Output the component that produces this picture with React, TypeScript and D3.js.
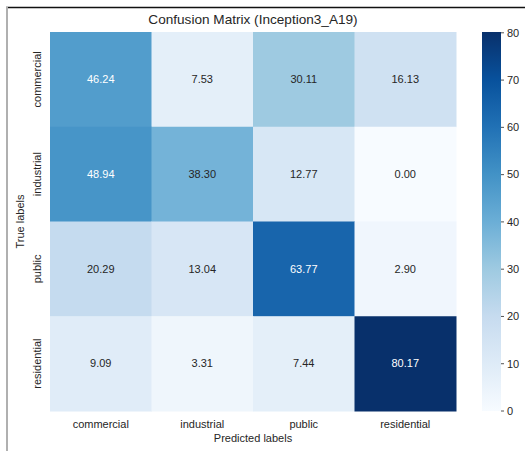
import React from "react";
import * as d3 from "d3";

const classes = ["commercial", "industrial", "public", "residential"];
const rowCommercial = [46.24, 7.53, 30.11, 16.13];
const rowIndustrial = [48.94, 38.3, 12.77, 0.0];
const rowPublic = [20.29, 13.04, 63.77, 2.9];
const rowResidential = [9.09, 3.31, 7.44, 80.17];
const matrix = [rowCommercial, rowIndustrial, rowPublic, rowResidential];
const colorbarTicks = [0, 10, 20, 30, 40, 50, 60, 70, 80];
const blues = ["#f7fbff", "#deebf7", "#c6dbef", "#9ecae1", "#6baed6", "#4292c6", "#2171b5", "#08519c", "#08306b"];

const W = 525;
const H = 451;
const left = 50, right = 456, top = 32, bottom = 411;
const cbLeft = 482, cbRight = 501;
const FONT = "'Liberation Sans', Arial, sans-serif";
const TEXT = "#262626";

function luminance(c: string) {
  const rgb = d3.rgb(c);
  const f = (v: number) => {
    const s = v / 255;
    return s <= 0.03928 ? s / 12.92 : Math.pow((s + 0.055) / 1.055, 2.4);
  };
  return 0.2126 * f(rgb.r) + 0.7152 * f(rgb.g) + 0.0722 * f(rgb.b);
}

export default function App() {
  const vmax = d3.max(matrix.flat()) as number;
  const color = d3
    .scaleLinear<string>()
    .domain(blues.map((_, i) => (i / (blues.length - 1)) * vmax))
    .range(blues)
    .interpolate(d3.interpolateRgb)
    .clamp(true);
  const x = d3.scaleBand<string>().domain(classes).range([left, right]);
  const y = d3.scaleBand<string>().domain(classes).range([top, bottom]);
  const cb = d3.scaleLinear().domain([0, vmax]).range([bottom, top]);

  return (
    <svg width={W} height={H} style={{ position: "absolute", left: 0, top: 0, background: "#fff" }} fontFamily={FONT}>
      <defs>
        <linearGradient id="cbGrad" x1="0" y1="1" x2="0" y2="0">
          {blues.map((c, i) => (
            <stop key={i} offset={i / (blues.length - 1)} stopColor={c} />
          ))}
        </linearGradient>
      </defs>
      <rect x={0} y={0} width={W} height={H} fill="#fff" />
      {/* figure frame */}
      <line x1={6} x2={W} y1={7.5} y2={7.5} stroke="#111" strokeWidth={1.5} />
      <line x1={7} x2={7} y1={7} y2={H} stroke="#b0b0b0" strokeWidth={2} />

      <text x={(left + right) / 2} y={23.5} textAnchor="middle" fontSize={13.6} fill={TEXT}>
        Confusion Matrix (Inception3_A19)
      </text>

      {matrix.map((row, ri) =>
        row.map((v, ci) => {
          const fill = color(v);
          const cx = (x(classes[ci]) as number) + x.bandwidth() / 2;
          const cy = (y(classes[ri]) as number) + y.bandwidth() / 2;
          return (
            <g key={`${ri}-${ci}`}>
              <rect
                x={x(classes[ci])}
                y={y(classes[ri])}
                width={x.bandwidth() + 0.5}
                height={y.bandwidth() + 0.5}
                fill={fill}
              />
              <text
                x={cx}
                y={cy}
                dy="0.35em"
                textAnchor="middle"
                fontSize={11}
                fill={luminance(fill) > 0.408 ? TEXT : "#ffffff"}
              >
                {v.toFixed(2)}
              </text>
            </g>
          );
        })
      )}

      {classes.map((c) => (
        <text
          key={`x-${c}`}
          x={(x(c) as number) + x.bandwidth() / 2}
          y={428}
          textAnchor="middle"
          fontSize={11}
          fill={TEXT}
        >
          {c}
        </text>
      ))}
      <text x={(left + right) / 2} y={442} textAnchor="middle" fontSize={11} fill={TEXT}>
        Predicted labels
      </text>

      {classes.map((c) => {
        const cy = (y(c) as number) + y.bandwidth() / 2;
        return (
          <text
            key={`y-${c}`}
            transform={`translate(41,${cy}) rotate(-90)`}
            textAnchor="middle"
            fontSize={11}
            fill={TEXT}
          >
            {c}
          </text>
        );
      })}
      <text transform={`translate(24,${(top + bottom) / 2}) rotate(-90)`} textAnchor="middle" fontSize={11} fill={TEXT}>
        True labels
      </text>

      <rect x={cbLeft} y={top} width={cbRight - cbLeft} height={bottom - top} fill="url(#cbGrad)" />
      {colorbarTicks.map((t) => (
        <g key={`cb-${t}`} transform={`translate(${cbRight},${cb(t)})`}>
          <line x1={0} x2={3} stroke={TEXT} strokeWidth={0.8} />
          <text x={6} dy="0.35em" fontSize={11} fill={TEXT}>
            {t}
          </text>
        </g>
      ))}
    </svg>
  );
}
